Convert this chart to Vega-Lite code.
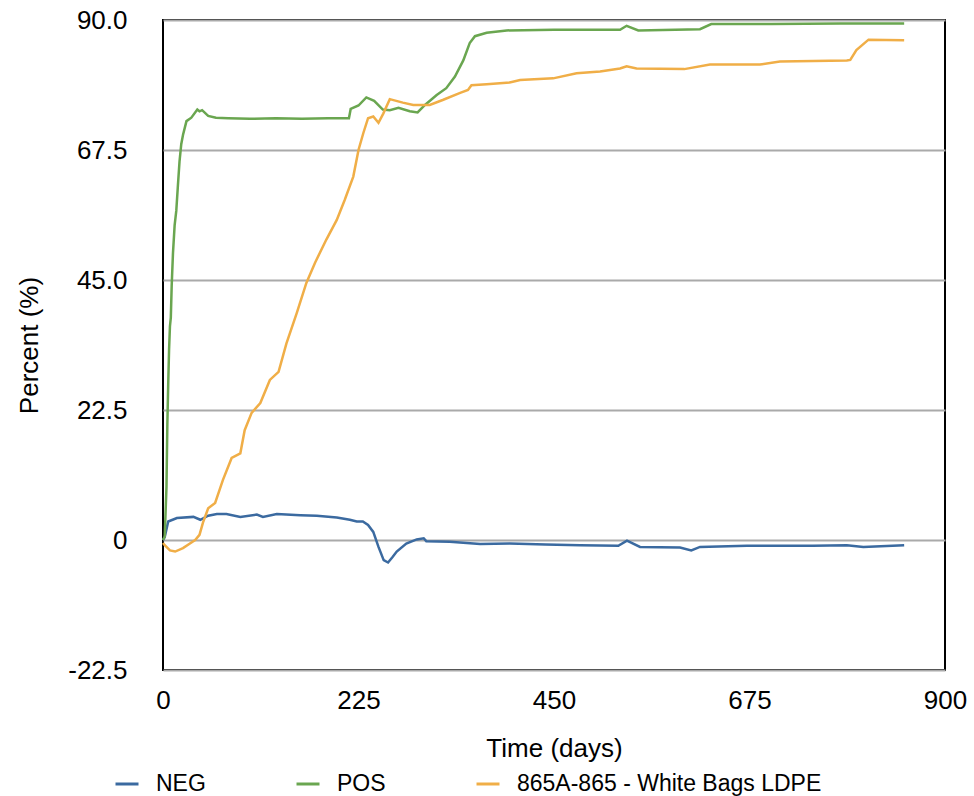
{
  "$schema": "https://vega.github.io/schema/vega-lite/v6.json",
  "width": 782,
  "height": 650,
  "autosize": {"type": "none"},
  "padding": {"left": 163, "top": 20, "right": 29, "bottom": 126},
  "background": "white",
  "config": {
    "font": "Liberation Sans",
    "view": {"stroke": "black", "strokeWidth": 2}
  },
  "data": {
    "values": [
      {"series": "NEG", "day": 0, "value": 0},
      {"series": "NEG", "day": 2, "value": 0.5},
      {"series": "NEG", "day": 6, "value": 3.2},
      {"series": "NEG", "day": 16, "value": 3.8},
      {"series": "NEG", "day": 35, "value": 4.0},
      {"series": "NEG", "day": 43, "value": 3.5},
      {"series": "NEG", "day": 52, "value": 4.2},
      {"series": "NEG", "day": 62, "value": 4.5},
      {"series": "NEG", "day": 73, "value": 4.5},
      {"series": "NEG", "day": 89, "value": 4.0},
      {"series": "NEG", "day": 108, "value": 4.4},
      {"series": "NEG", "day": 115, "value": 4.0},
      {"series": "NEG", "day": 131, "value": 4.5},
      {"series": "NEG", "day": 158, "value": 4.3},
      {"series": "NEG", "day": 177, "value": 4.2},
      {"series": "NEG", "day": 200, "value": 3.9},
      {"series": "NEG", "day": 215, "value": 3.5},
      {"series": "NEG", "day": 223, "value": 3.2},
      {"series": "NEG", "day": 230, "value": 3.2},
      {"series": "NEG", "day": 236, "value": 2.6},
      {"series": "NEG", "day": 242, "value": 1.4},
      {"series": "NEG", "day": 248, "value": -1.2},
      {"series": "NEG", "day": 254, "value": -3.5},
      {"series": "NEG", "day": 259, "value": -3.9},
      {"series": "NEG", "day": 264, "value": -3.0},
      {"series": "NEG", "day": 269, "value": -2.0},
      {"series": "NEG", "day": 280, "value": -0.6},
      {"series": "NEG", "day": 292, "value": 0.1},
      {"series": "NEG", "day": 300, "value": 0.3},
      {"series": "NEG", "day": 303, "value": -0.2},
      {"series": "NEG", "day": 330, "value": -0.3},
      {"series": "NEG", "day": 365, "value": -0.7},
      {"series": "NEG", "day": 399, "value": -0.6},
      {"series": "NEG", "day": 440, "value": -0.8},
      {"series": "NEG", "day": 480, "value": -0.9},
      {"series": "NEG", "day": 524, "value": -1.0},
      {"series": "NEG", "day": 534, "value": -0.1},
      {"series": "NEG", "day": 549, "value": -1.2},
      {"series": "NEG", "day": 595, "value": -1.3},
      {"series": "NEG", "day": 608, "value": -1.8},
      {"series": "NEG", "day": 618, "value": -1.2},
      {"series": "NEG", "day": 672, "value": -1.0},
      {"series": "NEG", "day": 748, "value": -1.0},
      {"series": "NEG", "day": 787, "value": -0.9},
      {"series": "NEG", "day": 806, "value": -1.2},
      {"series": "NEG", "day": 853, "value": -0.9},

      {"series": "POS", "day": 0, "value": 0},
      {"series": "POS", "day": 2, "value": 0.6},
      {"series": "POS", "day": 4, "value": 9.2},
      {"series": "POS", "day": 5, "value": 20},
      {"series": "POS", "day": 6, "value": 27},
      {"series": "POS", "day": 7, "value": 33},
      {"series": "POS", "day": 8, "value": 37},
      {"series": "POS", "day": 9, "value": 38.5},
      {"series": "POS", "day": 10, "value": 44},
      {"series": "POS", "day": 11.5, "value": 49.7},
      {"series": "POS", "day": 13.4, "value": 54.5},
      {"series": "POS", "day": 15.3, "value": 57},
      {"series": "POS", "day": 17, "value": 61},
      {"series": "POS", "day": 19, "value": 65.5},
      {"series": "POS", "day": 21, "value": 68.5},
      {"series": "POS", "day": 23, "value": 70.1},
      {"series": "POS", "day": 27, "value": 72.5},
      {"series": "POS", "day": 32.6, "value": 73.1},
      {"series": "POS", "day": 39.5, "value": 74.5},
      {"series": "POS", "day": 42, "value": 74.2},
      {"series": "POS", "day": 45, "value": 74.4},
      {"series": "POS", "day": 52, "value": 73.4},
      {"series": "POS", "day": 61, "value": 73.1},
      {"series": "POS", "day": 75, "value": 73.0},
      {"series": "POS", "day": 100, "value": 72.9},
      {"series": "POS", "day": 130, "value": 73.0},
      {"series": "POS", "day": 160, "value": 72.9},
      {"series": "POS", "day": 190, "value": 73.0},
      {"series": "POS", "day": 214, "value": 73.0},
      {"series": "POS", "day": 216, "value": 74.6},
      {"series": "POS", "day": 225, "value": 75.2},
      {"series": "POS", "day": 234, "value": 76.6},
      {"series": "POS", "day": 243, "value": 76.0},
      {"series": "POS", "day": 253, "value": 74.5},
      {"series": "POS", "day": 261, "value": 74.4},
      {"series": "POS", "day": 271, "value": 74.8},
      {"series": "POS", "day": 284, "value": 74.2},
      {"series": "POS", "day": 293, "value": 74.0},
      {"series": "POS", "day": 301.5, "value": 75.3},
      {"series": "POS", "day": 315, "value": 77},
      {"series": "POS", "day": 326, "value": 78.2},
      {"series": "POS", "day": 336, "value": 80.2},
      {"series": "POS", "day": 345.6, "value": 83},
      {"series": "POS", "day": 353, "value": 86},
      {"series": "POS", "day": 359, "value": 87.2},
      {"series": "POS", "day": 372.5, "value": 87.8},
      {"series": "POS", "day": 395.5, "value": 88.2},
      {"series": "POS", "day": 450, "value": 88.3},
      {"series": "POS", "day": 526, "value": 88.3},
      {"series": "POS", "day": 533.6, "value": 89},
      {"series": "POS", "day": 547, "value": 88.2},
      {"series": "POS", "day": 618, "value": 88.4},
      {"series": "POS", "day": 631, "value": 89.3},
      {"series": "POS", "day": 700, "value": 89.3},
      {"series": "POS", "day": 780, "value": 89.4},
      {"series": "POS", "day": 853, "value": 89.4},

      {"series": "865A-865 - White Bags LDPE", "day": 0, "value": -0.5},
      {"series": "865A-865 - White Bags LDPE", "day": 2, "value": -0.9},
      {"series": "865A-865 - White Bags LDPE", "day": 8, "value": -1.8},
      {"series": "865A-865 - White Bags LDPE", "day": 14, "value": -2.0},
      {"series": "865A-865 - White Bags LDPE", "day": 23, "value": -1.4},
      {"series": "865A-865 - White Bags LDPE", "day": 31, "value": -0.6},
      {"series": "865A-865 - White Bags LDPE", "day": 37, "value": 0},
      {"series": "865A-865 - White Bags LDPE", "day": 42, "value": 0.9},
      {"series": "865A-865 - White Bags LDPE", "day": 46, "value": 3},
      {"series": "865A-865 - White Bags LDPE", "day": 52, "value": 5.5},
      {"series": "865A-865 - White Bags LDPE", "day": 60, "value": 6.4},
      {"series": "865A-865 - White Bags LDPE", "day": 69, "value": 10.4},
      {"series": "865A-865 - White Bags LDPE", "day": 79, "value": 14.2},
      {"series": "865A-865 - White Bags LDPE", "day": 89, "value": 15},
      {"series": "865A-865 - White Bags LDPE", "day": 94, "value": 19},
      {"series": "865A-865 - White Bags LDPE", "day": 102, "value": 22},
      {"series": "865A-865 - White Bags LDPE", "day": 112, "value": 23.7},
      {"series": "865A-865 - White Bags LDPE", "day": 123, "value": 27.7},
      {"series": "865A-865 - White Bags LDPE", "day": 133, "value": 29.1},
      {"series": "865A-865 - White Bags LDPE", "day": 142, "value": 34},
      {"series": "865A-865 - White Bags LDPE", "day": 154, "value": 39.3},
      {"series": "865A-865 - White Bags LDPE", "day": 165, "value": 44.5},
      {"series": "865A-865 - White Bags LDPE", "day": 175, "value": 48},
      {"series": "865A-865 - White Bags LDPE", "day": 188, "value": 52},
      {"series": "865A-865 - White Bags LDPE", "day": 200, "value": 55.4},
      {"series": "865A-865 - White Bags LDPE", "day": 209, "value": 58.8},
      {"series": "865A-865 - White Bags LDPE", "day": 219, "value": 62.9},
      {"series": "865A-865 - White Bags LDPE", "day": 225, "value": 67.5},
      {"series": "865A-865 - White Bags LDPE", "day": 230.5, "value": 70.4},
      {"series": "865A-865 - White Bags LDPE", "day": 236, "value": 73},
      {"series": "865A-865 - White Bags LDPE", "day": 242, "value": 73.3},
      {"series": "865A-865 - White Bags LDPE", "day": 248, "value": 72.2},
      {"series": "865A-865 - White Bags LDPE", "day": 253.5, "value": 73.8},
      {"series": "865A-865 - White Bags LDPE", "day": 261, "value": 76.3},
      {"series": "865A-865 - White Bags LDPE", "day": 276, "value": 75.7},
      {"series": "865A-865 - White Bags LDPE", "day": 288, "value": 75.3},
      {"series": "865A-865 - White Bags LDPE", "day": 307, "value": 75.3},
      {"series": "865A-865 - White Bags LDPE", "day": 322.6, "value": 76.2},
      {"series": "865A-865 - White Bags LDPE", "day": 342, "value": 77.4},
      {"series": "865A-865 - White Bags LDPE", "day": 351, "value": 77.9},
      {"series": "865A-865 - White Bags LDPE", "day": 355, "value": 78.7},
      {"series": "865A-865 - White Bags LDPE", "day": 372.5, "value": 78.9},
      {"series": "865A-865 - White Bags LDPE", "day": 399, "value": 79.2},
      {"series": "865A-865 - White Bags LDPE", "day": 411, "value": 79.6},
      {"series": "865A-865 - White Bags LDPE", "day": 449, "value": 79.9},
      {"series": "865A-865 - White Bags LDPE", "day": 476, "value": 80.8},
      {"series": "865A-865 - White Bags LDPE", "day": 503, "value": 81.1},
      {"series": "865A-865 - White Bags LDPE", "day": 526, "value": 81.6},
      {"series": "865A-865 - White Bags LDPE", "day": 533.6, "value": 82},
      {"series": "865A-865 - White Bags LDPE", "day": 545, "value": 81.6},
      {"series": "865A-865 - White Bags LDPE", "day": 600, "value": 81.5},
      {"series": "865A-865 - White Bags LDPE", "day": 629.5, "value": 82.3},
      {"series": "865A-865 - White Bags LDPE", "day": 687, "value": 82.3},
      {"series": "865A-865 - White Bags LDPE", "day": 710, "value": 82.8},
      {"series": "865A-865 - White Bags LDPE", "day": 787, "value": 83},
      {"series": "865A-865 - White Bags LDPE", "day": 791, "value": 83.1},
      {"series": "865A-865 - White Bags LDPE", "day": 798, "value": 84.8},
      {"series": "865A-865 - White Bags LDPE", "day": 812, "value": 86.6},
      {"series": "865A-865 - White Bags LDPE", "day": 853, "value": 86.5}
    ]
  },
  "mark": {"type": "line", "strokeWidth": 2.5},
  "encoding": {
    "x": {
      "field": "day",
      "type": "quantitative",
      "scale": {"domain": [0, 900], "nice": false},
      "axis": {
        "values": [0, 225, 450, 675, 900],
        "grid": false,
        "ticks": false,
        "domain": false,
        "labelFontSize": 26,
        "labelColor": "black",
        "labelPadding": 17,
        "labelFlush": false,
        "title": "Time (days)",
        "titleFontSize": 26,
        "titleFontWeight": "normal",
        "titleColor": "black",
        "titlePadding": 22
      }
    },
    "y": {
      "field": "value",
      "type": "quantitative",
      "scale": {"domain": [-22.5, 90], "nice": false, "zero": false},
      "axis": {
        "values": [-22.5, 0, 22.5, 45, 67.5, 90],
        "labelExpr": "datum.value == 0 ? '0' : (datum.value < 0 ? '-' + format(-datum.value, '.1f') : format(datum.value, '.1f'))",
        "grid": true,
        "gridColor": "#aaaaaa",
        "gridWidth": 2,
        "ticks": false,
        "domain": false,
        "labelFontSize": 26,
        "labelColor": "black",
        "labelPadding": 36,
        "labelFlush": false,
        "title": "Percent (%)",
        "titleFontSize": 26,
        "titleFontWeight": "normal",
        "titleColor": "black",
        "titlePadding": 25
      }
    },
    "color": {
      "field": "series",
      "type": "nominal",
      "scale": {
        "domain": ["NEG", "POS", "865A-865 - White Bags LDPE"],
        "range": ["#3b6aa0", "#6aa650", "#f0ae47"]
      },
      "legend": {
        "title": null,
        "orient": "none",
        "legendX": -49,
        "legendY": 751,
        "direction": "horizontal",
        "columns": 3,
        "gridAlign": "none",
        "columnPadding": 84,
        "symbolType": "stroke",
        "symbolStrokeWidth": 3,
        "symbolSize": 529,
        "labelFontSize": 23,
        "labelColor": "black",
        "labelLimit": 500,
        "labelOffset": 16
      }
    }
  }
}
